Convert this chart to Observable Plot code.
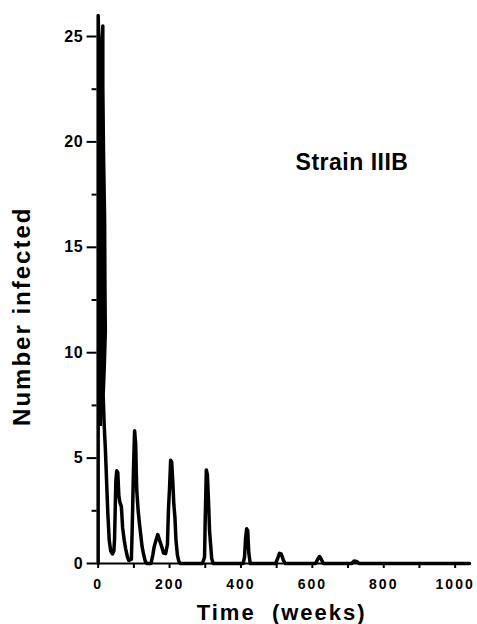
<!DOCTYPE html>
<html><head><meta charset="utf-8">
<script src="https://cdn.jsdelivr.net/npm/d3@7"></script>
<script src="https://cdn.jsdelivr.net/npm/@observablehq/plot@0.6"></script>
<style>
html,body{margin:0;padding:0;background:#fff;}
#chart svg{display:block;}
</style></head><body><div id="chart"></div>
<script>
// Simulated number infected over time (weeks)
const weeks = [0,0,5,13,13,15,18,19,20,17,14,17,20,27,31,35,40,44,46,47.5,49.5,52,55,58,61,65,68.5,73,77,82,86,93,95,99,102,105,108,112,115,119,123,127,132,137,148,153,157,162,167,172,177,183,189,194,197,200,203,206,209,212,215,218,222,226,230,292,296,298,300,303,306,309,312,315,318,322,406,410,413,416,419,422,426,497,503,508,513,519,524,609,615,620,625,631,710,717,724,731,1040];
const infected = [0,26,22.5,25.5,22.6,19.4,16.3,13,11,9.3,8,6.5,5.5,2.4,1.1,0.6,0.45,0.6,1.2,2.4,3.9,4.4,4.3,3.2,2.9,2.7,1.7,1.1,0.7,0.3,0.14,0.2,1.4,4.5,6.3,5.7,3.5,2.5,2.0,1.4,0.8,0.45,0.1,0,0,0.4,0.8,1.1,1.37,1.1,0.85,0.5,0.47,0.9,2.6,3.6,4.9,4.8,3.9,2.8,2.2,1.1,0.4,0.1,0,0,0.2,0.3,2.2,4.44,4.2,3,1.56,0.9,0.24,0,0,0.3,1.2,1.65,1.55,0.5,0,0,0.25,0.48,0.45,0.15,0,0,0.2,0.33,0.2,0,0,0.12,0.1,0,0];
// Dense early oscillation band (drawn as a solid mass)
const bandInfected = [6.5,8,9.3,11,13,16.3,19.4,22.6];
const bandWeeksRight = [12,15,17,20,19,18,15,13];
const yMajorTicks = [0,5,10,15,20,25];
const yMinorTicks = [2.5,7.5,12.5,17.5,22.5];
const xTicks = [0,100,200,300,400,500,600,700,800,900,1000];
const xTickLabels = [0,200,400,600,800,1000];
const strainLabel = "Strain IIIB";
const xTitle = "Time\u00a0\u00a0(weeks)";
const yTitle = "Number infected";

const series = weeks.map((w,i)=>({week:w, infected:infected[i]}));
const band = bandInfected.map((v,i)=>({infected:v, right:bandWeeksRight[i]}));

const chart = Plot.plot({
  width: 477, height: 624,
  marginLeft: 96.6, marginRight: 6.3, marginTop: 6.5, marginBottom: 61,
  style: {fontFamily: "'Liberation Sans', Arial, Helvetica, sans-serif", color: "black", background: "white"},
  x: {domain: [-3, 1045], axis: null},
  y: {domain: [0, 26.4], axis: null},
  marks: [
    Plot.ruleY([0], {stroke: "black", strokeWidth: 2}),
    Plot.axisX(xTicks, {tickSize: 5, tickPadding: 11, strokeWidth: 2, fontSize: 14, fontWeight: "bold",
      tickFormat: d => xTickLabels.includes(d) ? String(d) : "", label: null}),
    Plot.axisY(yMajorTicks, {tickSize: 10, tickPadding: 4, strokeWidth: 2, fontSize: 16, fontWeight: "bold", label: null}),
    Plot.axisY(yMinorTicks, {tickSize: 5, strokeWidth: 2, tickFormat: () => "", label: null}),
    Plot.areaX(band, {y: "infected", x1: () => 0, x2: "right", fill: "black"}),
    Plot.line(series, {x: "week", y: "infected", stroke: "black", strokeWidth: 3.5, strokeLinejoin: "round", strokeLinecap: "round"}),
    Plot.text([strainLabel], {frameAnchor: "top-left", textAnchor: "start", lineAnchor: "middle", dx: 198.5, dy: 156, fontSize: 23, fontWeight: "bold"}),
    Plot.text([xTitle], {frameAnchor: "bottom", lineAnchor: "middle", dx: -2.5, dy: 49, fontSize: 22, fontWeight: "bold"}),
    Plot.text([yTitle], {frameAnchor: "left", textAnchor: "middle", lineAnchor: "middle", rotate: -90, dx: -75, dy: 31, fontSize: 24, fontWeight: "bold"})
  ]
});
document.getElementById("chart").appendChild(chart);
const sel = d3.select(chart);
sel.selectAll('g[aria-label="x-axis tick label"] text').style("font-weight","bold").style("letter-spacing","2px");
sel.selectAll('g[aria-label="y-axis tick label"] text').style("font-weight","bold").style("letter-spacing","0.5px");
sel.selectAll("text").filter(function(){return this.textContent === xTitle;}).style("letter-spacing","2px");
sel.selectAll("text").filter(function(){return this.textContent === yTitle;}).style("letter-spacing","2px");
sel.selectAll("text").filter(function(){return this.textContent === strainLabel;}).style("letter-spacing","0.5px");
</script></body></html>
